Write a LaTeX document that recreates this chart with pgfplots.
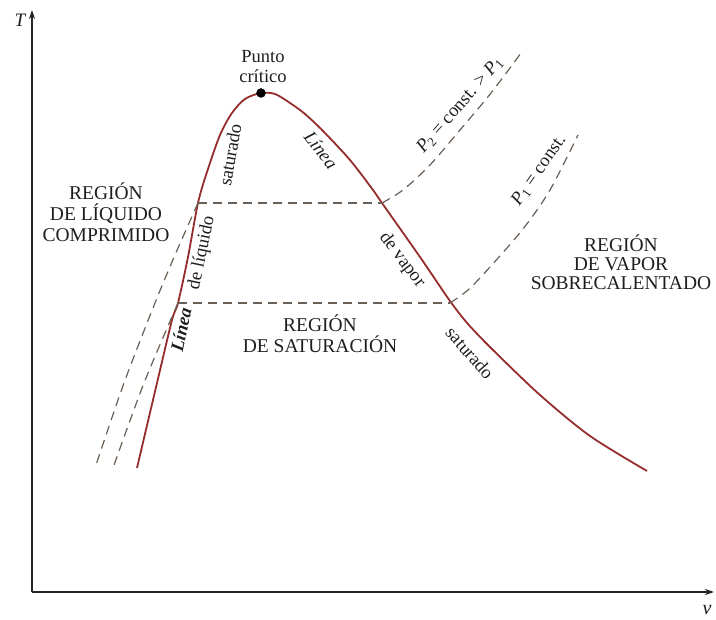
\documentclass[border=0pt]{standalone}
\usepackage{pgfplots}
\pgfplotsset{compat=1.18}
\usepackage{fontspec}
\setmainfont{Liberation Serif}
\usetikzlibrary{arrows.meta}
\definecolor{satred}{RGB}{150,45,45}
\definecolor{dashc}{RGB}{105,95,85}
\definecolor{txt}{RGB}{30,30,30}
\begin{document}
\begin{tikzpicture}
\begin{axis}[scale only axis, width=716pt, height=620pt,
  xmin=0, xmax=716, ymin=0, ymax=620, y dir=reverse,
  hide axis, clip=false]
% axes
\addplot[line width=1.6pt, black!85, -{Stealth[length=9pt,width=6pt]}] coordinates {(32,592) (32,10)};
\addplot[line width=1.6pt, black!85, -{Stealth[length=9pt,width=6pt]}] coordinates {(32,592) (714,592)};
% saturation dome
\addplot[line width=1.8pt, satred, smooth, tension=0.5] coordinates {
 (137,468) (157,383) (172,320) (178,303) (188,257) (198,203) (207,172)
 (220,135) (232,113) (245,99) (261,93) (275,94) (290,103) (305,114)
 (323,131) (350,160) (373,190) (382,203) (420,257) (450,301)
 (468,324) (493,350) (540,395) (590,436) (647,471)};
% horizontal dashed
\addplot[line width=1.2pt, dashc, dash pattern=on 9pt off 6pt] coordinates {(198,203) (382,203)};
\addplot[line width=1.2pt, dashc, dash pattern=on 9pt off 6pt] coordinates {(178,303) (450,303)};
% compressed liquid dashed
\addplot[line width=1.2pt, dashc, dash pattern=on 9pt off 6pt, smooth] coordinates {(198,203) (175,255) (155,303) (124,383) (95,468)};
\addplot[line width=1.2pt, dashc, dash pattern=on 9pt off 6pt, smooth] coordinates {(178,303) (144,383) (113,468)};
% superheated isobars
\addplot[line width=1.2pt, dashc, dash pattern=on 9pt off 6pt, smooth] coordinates {(382,203) (403,190) (430,165) (460,130) (487,98) (507,72) (521,53)};
\addplot[line width=1.2pt, dashc, dash pattern=on 9pt off 6pt, smooth] coordinates {(450,303) (468,290) (490,267) (523,229) (550,190) (578,135)};
% critical point
\addplot[only marks, mark=*, mark size=4.5pt, black] coordinates {(261,93)};
% labels
\node[txt, font=\fontsize{18.5}{20}\selectfont, align=center] at (axis cs:263,67) {Punto\\crítico};
\node[txt, font=\fontsize{19.5}{21}\selectfont, align=center] at (axis cs:106,212) {REGIÓN\\DE LÍQUIDO\\COMPRIMIDO};
\node[txt, font=\fontsize{19.5}{21}\selectfont, align=center] at (axis cs:320,334) {REGIÓN\\DE SATURACIÓN};
\node[txt, font=\fontsize{19.5}{19}\selectfont, align=center] at (axis cs:621,262) {REGIÓN\\DE VAPOR\\SOBRECALENTADO};
\node[txt, font=\fontsize{18.5}{20}\selectfont, rotate=80] at (axis cs:230,155) {saturado};
\node[txt, font=\fontsize{18.5}{20}\selectfont, rotate=78] at (axis cs:202,253) {de líquido};
\node[txt, font=\fontsize{18.5}{20}\selectfont\itshape\bfseries, rotate=78] at (axis cs:181,330) {Línea};
\node[txt, font=\fontsize{18.5}{20}\selectfont\itshape, rotate=-52] at (axis cs:321,150) {Línea};
\node[txt, font=\fontsize{18.5}{20}\selectfont, rotate=-53] at (axis cs:402,260) {de vapor};
\node[txt, font=\fontsize{18.5}{20}\selectfont, rotate=-49] at (axis cs:470,353) {saturado};
\node[txt, font=\fontsize{18.5}{20}\selectfont, rotate=49] at (axis cs:460,105) {\textit{P}\textsubscript{2} = const. > \textit{P}\textsubscript{1}};
\node[txt, font=\fontsize{18.5}{20}\selectfont, rotate=55] at (axis cs:539,170) {\textit{P}\textsubscript{1} = const.};
\node[txt, font=\fontsize{19}{20}\selectfont\itshape] at (axis cs:20,20) {T};
\node[txt, font=\fontsize{20}{20}\selectfont\itshape] at (axis cs:707,610) {v};
\end{axis}
\pgfresetboundingbox
\path (0,0) rectangle (716pt,620pt);
\end{tikzpicture}
\end{document}
